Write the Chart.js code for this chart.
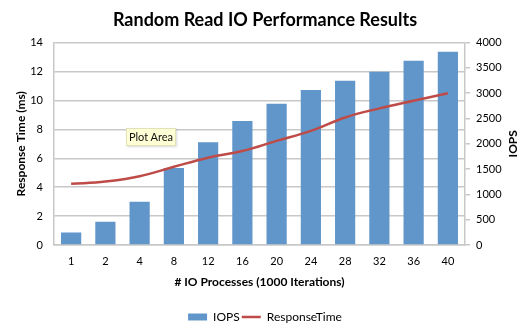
<!DOCTYPE html>
<html>
<head>
<meta charset="utf-8">
<script src="https://cdn.jsdelivr.net/npm/chart.js@4/dist/chart.umd.min.js"></script>
<style>
  html, body { margin: 0; padding: 0; background: #fff; }
  .wrap { position: relative; width: 530px; height: 328px; }
  .tip {
    position: absolute; left: 126px; top: 128px; width: 48px; height: 16px;
    background: #ffffd6; border: 1px solid #e2e2b8; box-shadow: 1px 1px 2px rgba(0,0,0,0.15);
    font: 11px Lato, sans-serif; color: #111; line-height: 16px; text-align: center;
  }
</style>
</head>
<body>
<div class="wrap">
  <canvas id="chart" width="530" height="328"></canvas>
  <div class="tip">Plot Area</div>
</div>
<script>
const processes = ['1', '2', '4', '8', '12', '16', '20', '24', '28', '32', '36', '40'];
const iops = [245, 460, 855, 1520, 2030, 2450, 2790, 3065, 3245, 3425, 3640, 3820];
const responseTime = [4.23, 4.39, 4.76, 5.41, 6.04, 6.5, 7.2, 7.89, 8.82, 9.45, 9.98, 10.5];

const gridGray = '#c8c8c8';
const font = 'Lato, "Open Sans", sans-serif';

// right axis title reads bottom-to-top like the left one
const rightTitle = {
  id: 'rightTitle',
  afterDraw(chart) {
    const { ctx, chartArea } = chart;
    ctx.save();
    ctx.translate(513, (chartArea.top + chartArea.bottom) / 2);
    ctx.rotate(-Math.PI / 2);
    ctx.font = 'bold 12px ' + font;
    ctx.fillStyle = '#000';
    ctx.textAlign = 'center';
    ctx.textBaseline = 'middle';
    ctx.fillText('IOPS', 0, 0);
    ctx.restore();
  }
};

new Chart(document.getElementById('chart'), {
  data: {
    labels: processes,
    datasets: [
      {
        type: 'bar', label: 'IOPS', data: iops, yAxisID: 'y1', order: 2,
        backgroundColor: '#6096c9', borderWidth: 0,
        categoryPercentage: 1, barPercentage: 0.59, pointStyle: 'rect'
      },
      {
        type: 'line', label: 'ResponseTime', data: responseTime, yAxisID: 'y', order: 1,
        borderColor: '#be4b48', backgroundColor: '#be4b48', borderWidth: 2.5,
        pointRadius: 0, tension: 0.4, pointStyle: 'line'
      }
    ]
  },
  options: {
    responsive: false,
    animation: false,
    layout: { padding: { top: 0, left: 0, right: 0, bottom: -5 } },
    plugins: {
      tooltip: { enabled: false },
      title: {
        display: true, text: 'Random Read IO Performance Results', color: '#000',
        font: { family: font, size: 18, weight: 'bold' }, padding: { top: 9, bottom: 12 }
      },
      legend: {
        position: 'bottom',
        labels: {
          usePointStyle: true, pointStyleWidth: 19, boxHeight: 7, color: '#000',
          font: { family: font, size: 12 }, padding: 2,
          sort: (a, b) => a.datasetIndex - b.datasetIndex
        }
      }
    },
    scales: {
      x: {
        grid: { display: false, drawTicks: false },
        border: { color: gridGray, width: 1.5 },
        ticks: { color: '#000', font: { family: font, size: 11 }, padding: 10 },
        title: {
          display: true, text: '# IO Processes (1000 Iterations)', color: '#000',
          font: { family: font, size: 12, weight: 'bold' }, padding: { top: 4, bottom: 20 }
        },
        afterFit: s => { s.height = 64; }
      },
      y: {
        position: 'left', min: 0, max: 14,
        ticks: { stepSize: 2, color: '#000', font: { family: font, size: 11 }, padding: 11 },
        grid: { color: gridGray, lineWidth: 1.5, drawTicks: false },
        border: { color: gridGray, width: 1.5 },
        title: {
          display: true, text: 'Response Time (ms)', color: '#000',
          font: { family: font, size: 12, weight: 'bold' }, padding: { top: 14, bottom: 0 }
        },
        afterFit: s => { s.width = 54; }
      },
      y1: {
        position: 'right', min: 0, max: 4000,
        ticks: { stepSize: 500, color: '#000', font: { family: font, size: 11 }, padding: 6,
          callback: v => String(v) },
        grid: { drawOnChartArea: false, color: gridGray, lineWidth: 1.5, tickLength: 5 },
        border: { color: gridGray, width: 1.5 },
        afterFit: s => { s.width = 65; }
      }
    }
  },
  plugins: [rightTitle]
});
</script>
</body>
</html>
